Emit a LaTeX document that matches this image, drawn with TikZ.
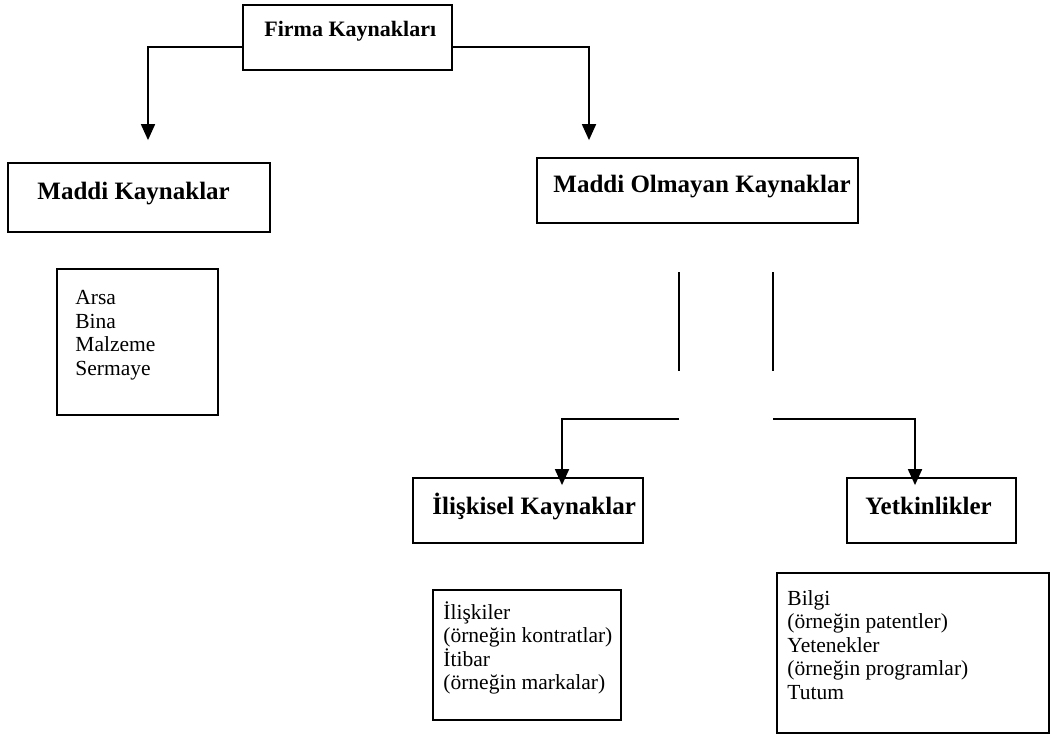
\documentclass[tikz,border=0pt]{standalone}
\usepackage{fontspec}
\setmainfont{Liberation Serif}
\usetikzlibrary{arrows.meta,fit}

\tikzset{
  kutu/.style={draw, line width=0.9pt, inner sep=0pt},
  baslik/.style={font=\fontsize{12.5}{14}\selectfont\bfseries, inner sep=0pt},
  liste/.style={font=\fontsize{10.75}{11.75}\selectfont, align=left, inner sep=0pt},
  ok/.style={line width=0.9pt, -{Triangle[width=7pt,length=8pt]}},
  cizgi/.style={line width=0.9pt}
}

\begin{document}
\begin{tikzpicture}[x=0.5pt,y=-0.5pt]
	\useasboundingbox (0,0) rectangle (1052,736);
	\node[kutu, fit={(243,5) (452,70)}] (firma) {};
	\node[baslik, font=\fontsize{11}{13}\selectfont\bfseries, anchor=west] (firmayazi) at (264,31) {Firma Kaynakları};
	\node[kutu, fit={(8,163) (270,232)}] (maddi) {};
	\node[baslik, anchor=west] (maddiyazi) at (37,194) {Maddi Kaynaklar};
	\node[kutu, fit={(537,158) (858,223)}] (maddiol) {};
	\node[baslik, anchor=west] (maddiolyazi) at (553,187) {Maddi Olmayan Kaynaklar};
	\node[kutu, fit={(57,269) (218,415)}] (arsa) {};
	\node[liste, anchor=west] (arsayazi) at (75,335) {Arsa\\Bina\\Malzeme\\Sermaye};
	\node[kutu, fit={(413,478) (643,543)}] (ilis) {};
	\node[baslik, anchor=west] (ilisyazi) at (432,506) {İlişkisel Kaynaklar};
	\node[kutu, fit={(847,478) (1016,543)}] (yetki) {};
	\node[baslik, anchor=west] (yetkiyazi) at (865,506) {Yetkinlikler};
	\node[kutu, fit={(433,590) (621,720)}] (iliski) {};
	\node[liste, anchor=west] (iliskiyazi) at (443,648) {İlişkiler\\(örneğin kontratlar)\\İtibar\\(örneğin markalar)};
	\node[kutu, fit={(777,573) (1049,733)}] (bilgi) {};
	\node[liste, anchor=west] (bilgiyazi) at (787,645) {Bilgi\\(örneğin patentler)\\Yetenekler\\(örneğin programlar)\\Tutum};
	\coordinate (solkose) at (148,47);
	\coordinate (sagkose) at (589,47);
	\draw[ok] (firma.west |- solkose) -- (solkose) -- ([yshift=11pt]solkose |- maddi.north);
	\draw[ok] (firma.east |- sagkose) -- (sagkose) -- ([yshift=8.5pt]sagkose |- maddiol.north);
	\coordinate (c1) at (679,272);
	\coordinate (c2) at (679,371);
	\coordinate (c3) at (773,272);
	\coordinate (c4) at (773,371);
	\draw[cizgi] (c1) -- (c2);
	\draw[cizgi] (c3) -- (c4);
	\coordinate (d1) at (679,419);
	\coordinate (d2) at (562,419);
	\coordinate (d3) at (773,419);
	\coordinate (d4) at (915,419);
	\draw[ok, shorten >=-4pt] (d1) -- (d2) -- (d2 |- ilis.north);
	\draw[ok, shorten >=-4pt] (d3) -- (d4) -- (d4 |- yetki.north);
\end{tikzpicture}
\end{document}
